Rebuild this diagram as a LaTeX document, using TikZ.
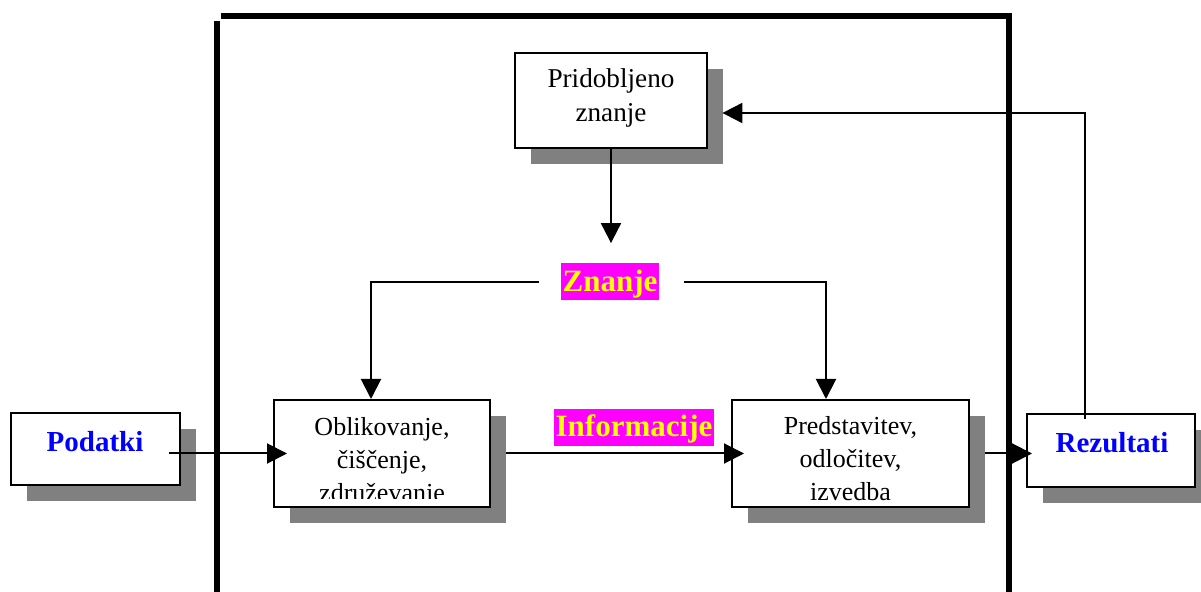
\documentclass[tikz,border=0pt]{standalone}
\usepackage{fontspec}
\setmainfont{Liberation Serif}
\usetikzlibrary{arrows.meta,calc}
\definecolor{shade}{RGB}{128,128,128}
\definecolor{tagfill}{RGB}{255,0,255}
\definecolor{tagtext}{RGB}{255,255,0}
\definecolor{endblue}{RGB}{0,0,255}
\begin{document}
\begin{tikzpicture}[x=0.5pt,y=-0.5pt,
  shadowbox/.style={fill=shade, draw=none, inner sep=0pt},
  box/.style={fill=white, draw=black, line width=1pt, inner sep=0pt},
  boxtext/.style={align=center, inner sep=0pt, font=\fontsize{13}{16.5}\selectfont},
  endtext/.style={inner sep=0pt, text=endblue, font=\bfseries\fontsize{14.5}{17}\selectfont},
  tag/.style={fill=tagfill, text=tagtext, inner xsep=1pt, inner ysep=0pt,
    text height=14pt, text depth=4.5pt, font=\bfseries\fontsize{15.5}{18}\selectfont},
  link/.style={line width=1pt},
  arrow/.style={link, -{Triangle[length=10pt,width=10pt]}},
  frame/.style={line width=3pt}]
\useasboundingbox (0,0) rectangle (1201,592);

% drop shadows
\node[shadowbox, minimum width=96pt,    minimum height=47.5pt] (pridS) at (627,116.5) {};
\node[shadowbox, minimum width=108pt,   minimum height=53.5pt] (oblS)  at (398,469.5) {};
\node[shadowbox, minimum width=118.5pt, minimum height=53.5pt] (preS)  at (866.5,469.5) {};
\node[shadowbox, minimum width=84.5pt,  minimum height=36pt]   (podS)  at (111.5,465) {};
\node[shadowbox, minimum width=84pt,    minimum height=36.5pt] (rezS)  at (1127,466.5) {};

% boxes
\node[box, minimum width=96pt,    minimum height=47.5pt] (prid) at (611,100.5) {};
\node[box, minimum width=108pt,   minimum height=53.5pt] (obl)  at (382,453.5) {};
\node[box, minimum width=118.5pt, minimum height=53.5pt] (pre)  at (850.5,453.5) {};
\node[box, minimum width=84.5pt,  minimum height=36pt]   (pod)  at (95.5,449) {};
\node[box, minimum width=84pt,    minimum height=36.5pt] (rez)  at (1111,450.5) {};

% box texts
\node[boxtext, font=\fontsize{13.6}{17}\selectfont] (pridT) at (611,98) {Pridobljeno\\znanje};
\begin{scope}
  \clip (obl.north west) rectangle ($(obl.south east)+(0,-9)$);
  \node[boxtext] (oblT) at (382,462.5) {Oblikovanje,\\čiščenje,\\združevanje};
\end{scope}
\node[boxtext] (preT) at (850.5,459) {Predstavitev,\\odločitev,\\izvedba};
\node[endtext] (podT) at (95,441.6) {Podatki};
\node[endtext] (rezT) at (1112,443) {Rezultati};

% highlighted labels
\node[tag, anchor=base] (zn)  at (610,291.5) {Znanje};
\node[tag, anchor=base] (inf) at (634,437) {Informacije};

% connectors
\draw[arrow] (prid.south) -- ($(prid.south |- zn.north)+(0,-20)$);
\draw[arrow] ($(zn.west)+(-21,0)$) -| ($(obl.north)+(-11,0)$);
\draw[arrow] ($(zn.east)+(24,0)$) -| ($(pre.north)+(-24.5,0)$);
\draw[arrow] ($(pod.east |- obl.west)+(-12,0)$) -- ($(obl.west)+(14,0)$);
\draw[arrow] (oblS.east |- obl.east) -- ($(pre.west)+(13,0)$);
\draw[arrow] (preS.east |- pre.east) -- ($(rez.west |- pre.east)+(6,0)$);
\draw[arrow] ($(rez.north)+(-26,6)$) |- ($(pridS.east)+(-1,-3.5)$);

% heavy frame
\draw[frame] (221,16) -- (1012,16);
\draw[frame] (217,21) -- (217,592);
\draw[frame] (1009,16) -- (1009,592);
\end{tikzpicture}
\end{document}
